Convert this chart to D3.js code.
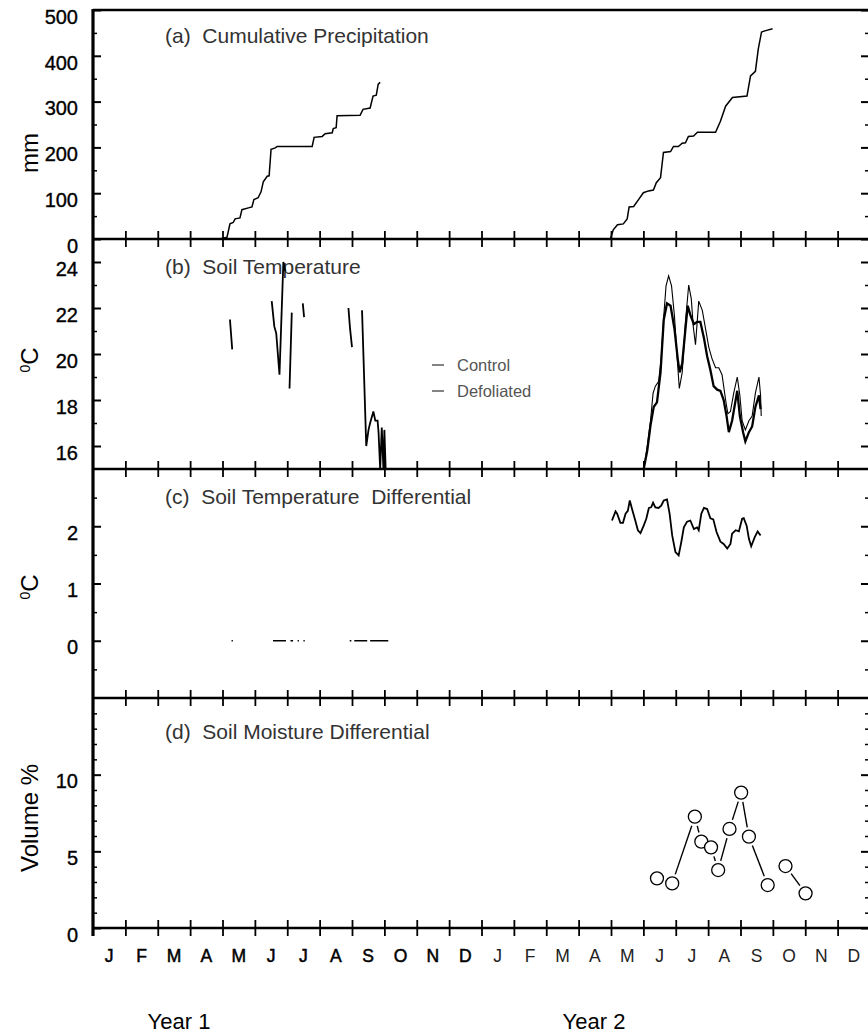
<!DOCTYPE html>
<html>
<head>
<meta charset="utf-8">
<script src="https://cdn.jsdelivr.net/npm/d3@7"></script>
<style>
  body { margin: 0; background: #fff; }
  svg { display: block; font-family: "Liberation Sans", Arial, Helvetica, sans-serif; }
  .tick text { font-size: 20px; fill: #000; }
</style>
</head>
<body>
<div id="chart"></div>
<script>
// month labels along the bottom (two years)
var monthLabels = ["J","F","M","A","M","J","J","A","S","O","N","D",
                   "J","F","M","A","M","J","J","A","S","O","N","D"];
var yearLabels = ["Year 1", "Year 2"];

// (a) cumulative precipitation, [month, mm]
var precipYear1 = [[3.93,0],[4.14,4],[4.23,33],[4.33,36],[4.39,44],[4.54,46],[4.60,64],[4.80,68],
  [4.91,70],[4.97,86],[5.10,90],[5.19,103],[5.26,125],[5.38,137],[5.44,138],[5.50,196],[5.63,199],
  [5.69,202],[6.77,202],[6.83,222],[7.08,224],[7.17,230],[7.39,232],[7.42,241],[7.51,243],[7.54,269],
  [8.25,270],[8.34,283],[8.56,286],[8.65,312],[8.75,314],[8.81,338],[8.87,342]];
var precipYear2 = [[15.98,0],[16.07,20],[16.20,31],[16.38,33],[16.50,44],[16.56,70],[16.70,71],
  [16.85,86],[17.00,101],[17.16,105],[17.31,107],[17.40,123],[17.53,134],[17.62,189],[17.84,191],
  [17.93,202],[18.08,202],[18.20,209],[18.30,210],[18.39,224],[18.55,225],[18.67,233],[19.23,233],
  [19.38,257],[19.54,290],[19.75,309],[20.20,312],[20.31,356],[20.46,366],[20.55,415],[20.65,452],
  [20.78,455],[20.99,459]];

// (b) soil temperature, [month, degC]; null = gap in record
var tempYear1 = [[4.23,21.5],[4.30,20.2], null,
  [5.52,22.3],[5.60,21.2],[5.66,20.9],[5.76,19.1],[5.88,24.0],[5.94,23.6], null,
  [6.07,18.5],[6.14,21.8], null,
  [6.48,22.2],[6.52,21.6], null,
  [7.89,22.0],[7.94,21.1],[8.00,20.3], null,
  [8.31,21.9],[8.44,16.0],[8.51,16.7],[8.56,17.0],[8.66,17.5],[8.72,17.1],[8.79,17.1],[8.82,16.6],
  [8.87,15.0],[8.92,16.8],[8.97,15.0],[9.00,16.7],[9.04,15.0]];
var tempControl = [[17.01,15.0],[17.12,15.8],[17.22,16.9],[17.32,17.7],[17.42,17.9],[17.53,19.2],
  [17.63,21.5],[17.73,22.2],[17.84,22.1],[17.96,21.1],[18.06,19.8],[18.12,19.2],[18.20,19.6],
  [18.30,21.1],[18.37,22.1],[18.45,21.7],[18.56,21.3],[18.66,21.4],[18.76,21.4],[18.87,20.7],
  [18.97,19.9],[19.07,19.3],[19.17,18.6],[19.28,18.45],[19.38,18.4],[19.48,18.0],[19.57,17.3],
  [19.64,16.6],[19.74,17.1],[19.85,18.0],[19.90,18.4],[19.98,17.3],[20.08,16.6],[20.15,16.2],
  [20.26,16.6],[20.36,16.85],[20.46,17.7],[20.57,18.2],[20.62,17.6]];
var tempDefoliated = [[17.01,15.0],[17.12,16.0],[17.22,17.1],[17.30,18.3],[17.37,18.6],[17.47,18.8],
  [17.55,19.8],[17.63,21.65],[17.70,22.96],[17.78,23.4],[17.87,22.96],[17.96,21.65],[18.04,19.9],
  [18.11,18.5],[18.20,19.2],[18.30,21.4],[18.40,23.0],[18.48,22.4],[18.54,21.2],[18.61,20.4],
  [18.71,22.3],[18.82,21.9],[18.92,21.1],[19.02,20.3],[19.12,19.8],[19.23,19.4],[19.33,19.4],
  [19.43,19.1],[19.48,18.6],[19.54,18.0],[19.61,17.4],[19.69,17.5],[19.79,18.3],[19.90,19.0],
  [19.98,18.2],[20.05,17.1],[20.15,16.7],[20.26,17.1],[20.36,17.3],[20.46,18.3],[20.57,19.0],
  [20.62,18.2],[20.64,17.3]];

// (c) soil temperature differential, [month, degC]
var diffYear1 = [[4.28,0],[4.32,0], null, [5.56,0],[5.96,0], null, [6.10,0],[6.18,0], null,
  [6.32,0],[6.36,0], null, [6.50,0],[6.54,0], null, [7.93,0],[7.98,0], null,
  [8.07,0],[8.47,0], null, [8.56,0],[9.12,0]];
var diffYear2 = [[16.03,2.10],[16.14,2.26],[16.19,2.22],[16.29,2.06],[16.37,2.06],[16.45,2.22],
  [16.52,2.27],[16.58,2.45],[16.65,2.30],[16.75,2.10],[16.83,1.93],[16.91,1.88],[17.01,2.01],
  [17.09,2.13],[17.17,2.32],[17.24,2.33],[17.30,2.41],[17.37,2.33],[17.47,2.32],[17.55,2.36],
  [17.63,2.45],[17.73,2.47],[17.81,2.22],[17.89,1.84],[17.99,1.55],[18.09,1.49],[18.17,1.72],
  [18.25,1.98],[18.35,2.08],[18.45,2.10],[18.56,1.95],[18.66,1.98],[18.71,1.93],[18.79,2.22],
  [18.87,2.32],[18.97,2.30],[19.07,2.14],[19.16,2.12],[19.26,1.90],[19.38,1.73],[19.48,1.69],
  [19.59,1.61],[19.69,1.69],[19.74,1.87],[19.85,1.93],[19.95,1.91],[20.05,2.13],[20.10,2.14],
  [20.19,2.01],[20.26,1.78],[20.33,1.65],[20.44,1.81],[20.53,1.91],[20.62,1.84]];

// (d) soil moisture differential
var moistMonth = [17.42,17.89,18.59,18.79,19.09,19.31,19.66,20.02,20.26,20.84,21.39,22.01];
var moistValue = [3.24,2.91,7.26,5.63,5.26,3.78,6.46,8.83,5.96,2.80,4.04,2.26];
var moistBreakAfter = 9; // no joining line between these two samples

var width = 868, height = 1034;
var left = 93, right = 870;

var x = d3.scaleLinear().domain([0, 24]).range([left, right]);

// panel setup: vertical extent, y domain, labelled and minor ticks
var panels = [
  { top: 10,  bottom: 239, domain: [0, 500], major: [0,100,200,300,400,500],
    minor: [50,150,250,350,450], title: "(a)  Cumulative Precipitation", ty: 43 },
  { top: 239, bottom: 469, domain: [15, 25], major: [16,18,20,22,24],
    minor: [17,19,21,23], title: "(b)  Soil Temperature", ty: 274 },
  { top: 469, bottom: 698, domain: [-1, 3], major: [0,1,2],
    minor: [-0.5,0.5,1.5,2.5], title: "(c)  Soil Temperature  Differential", ty: 504 },
  { top: 698, bottom: 928, domain: [0, 15], major: [0,5,10],
    minor: [1,2,3,4,6,7,8,9,11,12,13,14], title: "(d)  Soil Moisture Differential", ty: 739 }
];

var svg = d3.select("#chart")
  .append("svg")
  .attr("width", width)
  .attr("height", height);

panels.forEach(function(p) {
  p.y = d3.scaleLinear().domain(p.domain).range([p.bottom, p.top]);

  // left axis, ticks pointing inward
  svg.append("g")
    .attr("transform", "translate(" + left + ",0)")
    .call(d3.axisLeft(p.y).tickValues(p.major).tickSize(-8).tickPadding(15).tickFormat(d3.format("d")))
    .call(function(g) { g.select(".domain").remove(); })
    .call(function(g) {
      g.selectAll(".tick line").attr("stroke-width", 2);
      g.selectAll(".tick text").attr("dy", "0.66em").attr("stroke", "#000").attr("stroke-width", 0.35);
    });
  svg.append("g")
    .attr("transform", "translate(" + left + ",0)")
    .call(d3.axisLeft(p.y).tickValues(p.minor).tickSize(-4).tickFormat(""))
    .call(function(g) { g.select(".domain").remove(); g.selectAll("line").attr("stroke-width", 1.5); });

  // right side ticks (mirror)
  svg.append("g")
    .attr("transform", "translate(" + right + ",0)")
    .call(d3.axisRight(p.y).tickValues(p.major).tickSize(-9).tickFormat(""))
    .call(function(g) { g.select(".domain").remove(); g.selectAll("line").attr("stroke-width", 2); });
  svg.append("g")
    .attr("transform", "translate(" + right + ",0)")
    .call(d3.axisRight(p.y).tickValues(p.minor).tickSize(-5).tickFormat(""))
    .call(function(g) { g.select(".domain").remove(); g.selectAll("line").attr("stroke-width", 1.5); });

  // panel title (keep the double spaces)
  svg.append("text")
    .attr("x", 165)
    .attr("y", p.ty)
    .style("white-space", "pre")
    .style("font-size", "21px")
    .style("fill", "#333")
    .text(p.title);
});

// top frame line
svg.append("line")
  .attr("x1", left).attr("x2", right)
  .attr("y1", 10).attr("y2", 10)
  .attr("stroke", "#000").attr("stroke-width", 2.5);

// panel separators with month ticks crossing them
panels.forEach(function(p) {
  svg.append("line")
    .attr("x1", left).attr("x2", right)
    .attr("y1", p.bottom).attr("y2", p.bottom)
    .attr("stroke", "#000").attr("stroke-width", 2.6);
  svg.append("g")
    .attr("transform", "translate(0," + (p.bottom - 8) + ")")
    .call(d3.axisBottom(x).tickValues(d3.range(1, 24)).tickSize(16).tickFormat(""))
    .call(function(g) { g.select(".domain").remove(); g.selectAll("line").attr("stroke-width", 1.8); });
});

// left axis line
svg.append("line")
  .attr("x1", left).attr("x2", left)
  .attr("y1", 9).attr("y2", 936)
  .attr("stroke", "#000").attr("stroke-width", 3.2);

// y axis titles
function yTitle(cy, txt, sup) {
  var t = svg.append("text")
    .attr("transform", "translate(38," + cy + ") rotate(-90)")
    .attr("text-anchor", "middle")
    .style("font-size", "24px");
  if (sup) {
    t.append("tspan").attr("baseline-shift", "super").style("font-size", "14px").text("0");
  }
  t.append("tspan").text(txt);
}
yTitle(153, "mm");
yTitle(360, "C", true);
yTitle(587, "C", true);
yTitle(818, "Volume %");

// month letters
svg.selectAll(".month")
  .data(monthLabels)
  .enter().append("text")
  .attr("class", "month")
  .attr("x", function(d, i) { return x(i + 0.5); })
  .attr("y", 962)
  .attr("text-anchor", "middle")
  .style("font-size", "17.5px")
  .style("fill", function(d, i) { return i < 12 ? "#000" : "#222"; })
  .attr("stroke", function(d, i) { return i < 12 ? "#000" : "none"; })
  .attr("stroke-width", 0.5)
  .text(function(d) { return d; });

svg.selectAll(".year")
  .data(yearLabels)
  .enter().append("text")
  .attr("class", "year")
  .attr("x", function(d, i) { return i == 0 ? 179 : 594; })
  .attr("y", 1029)
  .attr("text-anchor", "middle")
  .style("font-size", "22px")
  .text(function(d) { return d; });

// line generator per panel
function lineFor(p) {
  return d3.line()
    .defined(function(d) { return d != null; })
    .x(function(d) { return x(d[0]); })
    .y(function(d) { return p.y(d[1]); });
}

var pa = panels[0], pb = panels[1], pc = panels[2], pd = panels[3];

[precipYear1, precipYear2].forEach(function(s) {
  svg.append("path").datum(s)
    .attr("d", lineFor(pa))
    .attr("fill", "none").attr("stroke", "#000").attr("stroke-width", 1.5);
});

svg.append("path").datum(tempYear1)
  .attr("d", lineFor(pb))
  .attr("fill", "none").attr("stroke", "#000").attr("stroke-width", 1.8);
svg.append("path").datum(tempDefoliated)
  .attr("d", lineFor(pb))
  .attr("fill", "none").attr("stroke", "#000").attr("stroke-width", 1.1);
svg.append("path").datum(tempControl)
  .attr("d", lineFor(pb))
  .attr("fill", "none").attr("stroke", "#000").attr("stroke-width", 2.3);

// legend
var legend = [{ name: "Control", y: 365 }, { name: "Defoliated", y: 391 }];
var lg = svg.selectAll(".legend")
  .data(legend)
  .enter().append("g")
  .attr("class", "legend");
lg.append("line")
  .attr("x1", 432).attr("x2", 444)
  .attr("y1", function(d) { return d.y; }).attr("y2", function(d) { return d.y; })
  .attr("stroke", "#333").attr("stroke-width", 1.2);
lg.append("text")
  .attr("x", 457)
  .attr("y", function(d) { return d.y + 6; })
  .style("font-size", "16.5px")
  .style("fill", "#555")
  .text(function(d) { return d.name; });

svg.append("path").datum(diffYear1)
  .attr("d", lineFor(pc))
  .attr("fill", "none").attr("stroke", "#000").attr("stroke-width", 1.6);
svg.append("path").datum(diffYear2)
  .attr("d", lineFor(pc))
  .attr("fill", "none").attr("stroke", "#000").attr("stroke-width", 1.8);

// moisture: short joining lines that stop short of the circles
var r = 6.5, gap = 9.5;
var segs = [];
for (var i = 0; i < moistMonth.length - 1; i++) {
  if (i == moistBreakAfter) continue;
  var x1 = x(moistMonth[i]), y1 = pd.y(moistValue[i]);
  var x2 = x(moistMonth[i + 1]), y2 = pd.y(moistValue[i + 1]);
  var len = Math.sqrt((x2 - x1) * (x2 - x1) + (y2 - y1) * (y2 - y1));
  if (len <= 2 * gap) continue;
  var ux = (x2 - x1) / len, uy = (y2 - y1) / len;
  segs.push({ x1: x1 + ux * gap, y1: y1 + uy * gap, x2: x2 - ux * gap, y2: y2 - uy * gap });
}
svg.selectAll(".mseg")
  .data(segs)
  .enter().append("line")
  .attr("class", "mseg")
  .attr("x1", function(d) { return d.x1; }).attr("y1", function(d) { return d.y1; })
  .attr("x2", function(d) { return d.x2; }).attr("y2", function(d) { return d.y2; })
  .attr("stroke", "#000").attr("stroke-width", 1.4);

svg.selectAll(".mpt")
  .data(moistMonth)
  .enter().append("circle")
  .attr("class", "mpt")
  .attr("cx", function(d) { return x(d); })
  .attr("cy", function(d, i) { return pd.y(moistValue[i]); })
  .attr("r", r)
  .style("fill", "#fff")
  .style("stroke", "#000")
  .style("stroke-width", 1.3);
</script>
</body>
</html>
